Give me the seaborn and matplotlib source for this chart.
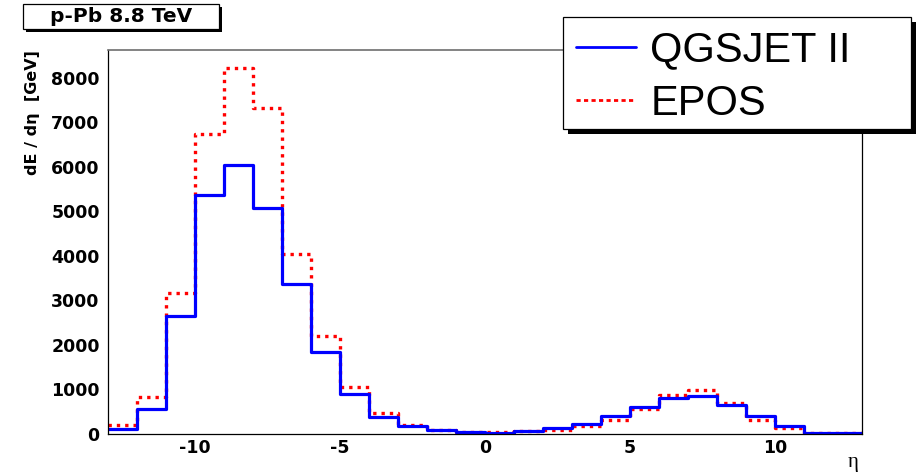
import matplotlib
matplotlib.use("Agg")
import matplotlib.pyplot as plt
from matplotlib.patches import Rectangle
from matplotlib.lines import Line2D
from matplotlib.ticker import FixedLocator, MultipleLocator
import pandas as pd
import seaborn as sns

# Pseudorapidity bins (unit width) and energy flow per bin, GeV
eta_edges = list(range(-13, 14))
qgsjet = [95, 560, 2640, 5376, 6050, 5074, 3371, 1832, 878, 375, 165, 68,
          25, 22, 52, 118, 215, 383, 593, 788, 848, 645, 398, 180, 22, 8]
epos = [187, 826, 3153, 6750, 8214, 7320, 4038, 2200, 1043, 457, 190, 82,
        40, 30, 50, 83, 165, 315, 548, 856, 990, 690, 315, 120, 15, 5]
model_names = ["QGSJET II", "EPOS"]
x_ticks = [-10, -5, 0, 5, 10]
y_ticks = [0, 1000, 2000, 3000, 4000, 5000, 6000, 7000, 8000]

qgsjet = qgsjet[:len(eta_edges) - 1]
epos = epos[:len(eta_edges) - 1]

sns.set_style("white")
plt.rcParams["font.family"] = ["DejaVu Sans"]
plt.rcParams["axes.unicode_minus"] = False
for key in ["text.color", "axes.labelcolor", "xtick.color", "ytick.color",
            "xtick.labelcolor", "ytick.labelcolor", "legend.labelcolor"]:
    plt.rcParams[key] = "black"

centers = [(a + b) / 2 for a, b in zip(eta_edges[:-1], eta_edges[1:])]
df = pd.DataFrame({
    "eta": centers * 2,
    "dE": qgsjet + epos,
    "model": [model_names[0]] * len(qgsjet) + [model_names[1]] * len(epos),
})

W, H = 919, 473
fig = plt.figure(figsize=(W / 100, H / 100), dpi=100)
ax = fig.add_axes([108 / W, 1 - 433.5 / H, (862 - 108) / W, (433.5 - 50) / H])

sns.histplot(data=df[df.model == "EPOS"], x="eta", weights="dE", bins=eta_edges,
             element="step", fill=False, color="#ff0000", linewidth=2.4,
             linestyle=(0, (1, 1.5)), ax=ax)
sns.histplot(data=df[df.model == "QGSJET II"], x="eta", weights="dE", bins=eta_edges,
             element="step", fill=False, color="#0000ff", linewidth=2.3, ax=ax)

ax.set_xlim(-13, 13)
ax.set_ylim(0, 8630)
ax.set_xlabel("")
ax.set_ylabel("")

ax.xaxis.set_major_locator(FixedLocator(x_ticks))
ax.xaxis.set_minor_locator(MultipleLocator(1))
ax.yaxis.set_major_locator(FixedLocator(y_ticks))
ax.yaxis.set_minor_locator(MultipleLocator(200))
ax.set_xticklabels([str(v) for v in x_ticks])
ax.set_yticklabels([str(v) for v in y_ticks])

ax.tick_params(axis="both", which="both", direction="in", color="black", width=0.8,
               top=False, right=False, labelsize=12.5, labelcolor="black")
ax.tick_params(axis="y", which="major", length=16.5, pad=6)
ax.tick_params(axis="y", which="minor", length=8)
ax.tick_params(axis="x", which="major", length=8, pad=4)
ax.tick_params(axis="x", which="minor", length=4)
for lab in ax.get_xticklabels() + ax.get_yticklabels():
    lab.set_fontweight("bold")

for side in ["left", "bottom", "right"]:
    ax.spines[side].set_color("black")
    ax.spines[side].set_linewidth(0.9)
ax.spines["top"].set_color("#6e6e6e")
ax.spines["top"].set_linewidth(1.2)

# Axis titles
fig.text(32 / W, 1 - 50 / H, "dE / dη  [GeV]", rotation=90, ha="center", va="top",
         fontsize=11.5, fontweight="bold", color="black")
fig.text(853 / W, 1 - 462 / H, "η", ha="center", va="center", fontsize=15,
         family=["Liberation Serif", "DejaVu Serif"], color="black")

def boxed(x0, y0, x1, y1, shadow):
    # white box with a solid black drop shadow, pixel coordinates from the top-left
    fig.add_artist(Rectangle(((x0 + shadow) / W, 1 - (y1 + shadow) / H),
                             (x1 - x0) / W, (y1 - y0) / H, transform=fig.transFigure,
                             facecolor="black", edgecolor="black", linewidth=0, zorder=3))
    fig.add_artist(Rectangle((x0 / W, 1 - y1 / H), (x1 - x0) / W, (y1 - y0) / H,
                             transform=fig.transFigure, facecolor="white",
                             edgecolor="black", linewidth=0.9, zorder=4))

# Collision system label
boxed(23, 4.5, 219, 29, 3)
fig.text(121 / W, 1 - 17 / H, "p-Pb 8.8 TeV", ha="center", va="center",
         fontsize=14.5, fontweight="bold", color="black", zorder=5)

# Legend
boxed(563, 17, 911, 129, 5)
handles = [Line2D([], [], color="#0000ff", linewidth=2.0),
           Line2D([], [], color="#ff0000", linewidth=2.0, linestyle=(0, (1.5, 1.2)))]
leg = fig.legend(handles, model_names, loc="center left",
                 bbox_to_anchor=(576 / W, 1 - 77 / H), frameon=False,
                 prop={"family": ["Liberation Sans", "DejaVu Sans"], "size": 30},
                 handlelength=1.44, handletextpad=0.34, labelspacing=0.33,
                 borderpad=0, borderaxespad=0, labelcolor="black")
leg.set_zorder(6)

fig.savefig("out.png", dpi=100)
